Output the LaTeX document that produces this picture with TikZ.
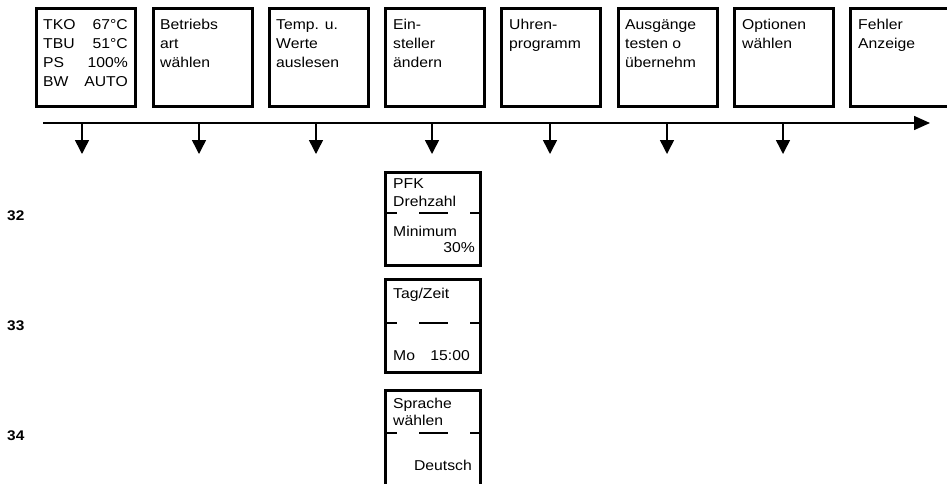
\documentclass[tikz,border=0pt]{standalone}
\usepackage{fontspec}
\setmainfont{Liberation Sans}[FakeStretch=1.1]
\usetikzlibrary{arrows.meta}
\begin{document}
\begin{tikzpicture}[x=1pt,y=-1pt,
  box/.style={draw,line width=2.5pt,inner sep=0pt,minimum width=99pt,minimum height=98pt,anchor=north west},
  sbox/.style={draw,line width=2.5pt,inner sep=0pt,minimum width=95pt,minimum height=93pt,anchor=north west},
  txt/.style={inner sep=0pt,anchor=base west,font=\fontsize{14.3}{19}\selectfont},
  rtxt/.style={txt,anchor=base east},
  num/.style={inner sep=0pt,anchor=base west,font=\bfseries\fontsize{14}{16}\selectfont},
  flow/.style={line width=1.5pt,-{Triangle[width=14pt,length=14pt]}},
  sep/.style={line width=1.5pt}]
\useasboundingbox (0,0) rectangle (947,483);
% top boxes
\node[box] (k1) at (35,7) {};
\node[box] (k2) at (152,7) {};
\node[box] (k3) at (268,7) {};
\node[box] (k4) at (384,7) {};
\node[box] (k5) at (500,7) {};
\node[box] (k6) at (617,7) {};
\node[box] (k7) at (733,7) {};
\node[box] (k8) at (849,7) {};
% box 1 text
\node[txt] (a1) at (43,29) {TKO};
\node[txt] (a2) at (43,48) {TBU};
\node[txt] (a3) at (43,67) {PS};
\node[txt] (a4) at (43,86) {BW};
\node[rtxt] (v1) at (128,29) {67°C};
\node[rtxt] (v2) at (128,48) {51°C};
\node[rtxt] (v3) at (128,67) {100\%};
\node[rtxt] (v4) at (128,86) {AUTO};
% other top texts
\node[txt] (b1) at (160,29) {Betriebs};
\node[txt] (b2) at (160,48) {art};
\node[txt] (b3) at (160,67) {wählen};
\node[txt] (c1) at (276,29) {Temp. u.};
\node[txt] (c2) at (276,48) {Werte};
\node[txt] (c3) at (276,67) {auslesen};
\node[txt] (d1) at (393,29) {Ein-};
\node[txt] (d2) at (393,48) {steller};
\node[txt] (d3) at (393,67) {ändern};
\node[txt] (e1) at (509,29) {Uhren-};
\node[txt] (e2) at (509,48) {programm};
\node[txt] (f1) at (625,29) {Ausgänge};
\node[txt] (f2) at (625,48) {testen o};
\node[txt] (f3) at (625,67) {übernehm};
\node[txt] (g1) at (742,29) {Optionen};
\node[txt] (g2) at (742,48) {wählen};
\node[txt] (h1) at (858,29) {Fehler};
\node[txt] (h2) at (858,48) {Anzeige};
% main line
\coordinate (ls) at (43,123);
\coordinate (le) at (930,123);
\draw[line width=1.5pt,-{Triangle[width=14pt,length=16pt]}] (ls) -- (le);
\foreach \i/\x in {1/82,2/199,3/316,4/432,5/550,6/667,7/783}{
  \coordinate (t\i) at (\x,123);
  \coordinate (u\i) at (\x,154);
  \draw[flow] (t\i) -- (u\i);
}
% lower boxes
\node[sbox] (m1) at (384,171) {};
\node[sbox] (m2) at (384,278) {};
\node[sbox,minimum height=120pt] (m3) at (384,389) {};
\foreach \y in {213,323,433}{
  \draw[sep] (384,\y) -- (397,\y);
  \draw[sep] (419,\y) -- (448,\y);
  \draw[sep] (470,\y) -- (479,\y);
}
\node[txt] (p1) at (393,188) {PFK};
\node[txt] (p2) at (393,206) {Drehzahl};
\node[txt] (p3) at (393,236) {Minimum};
\node[rtxt] (p4) at (475,252) {30\%};
\node[txt] (q1) at (393,298) {Tag/Zeit};
\node[txt] (q2) at (393,360) {Mo};
\node[rtxt] (q3) at (470,360) {15:00};
\node[txt] (r1) at (393,408) {Sprache};
\node[txt] (r2) at (393,425) {wählen};
\node[rtxt] (r3) at (472,470) {Deutsch};
% side numbers
\node[num] (n32) at (7,220) {32};
\node[num] (n33) at (7,330) {33};
\node[num] (n34) at (7,440) {34};
\end{tikzpicture}
\end{document}
